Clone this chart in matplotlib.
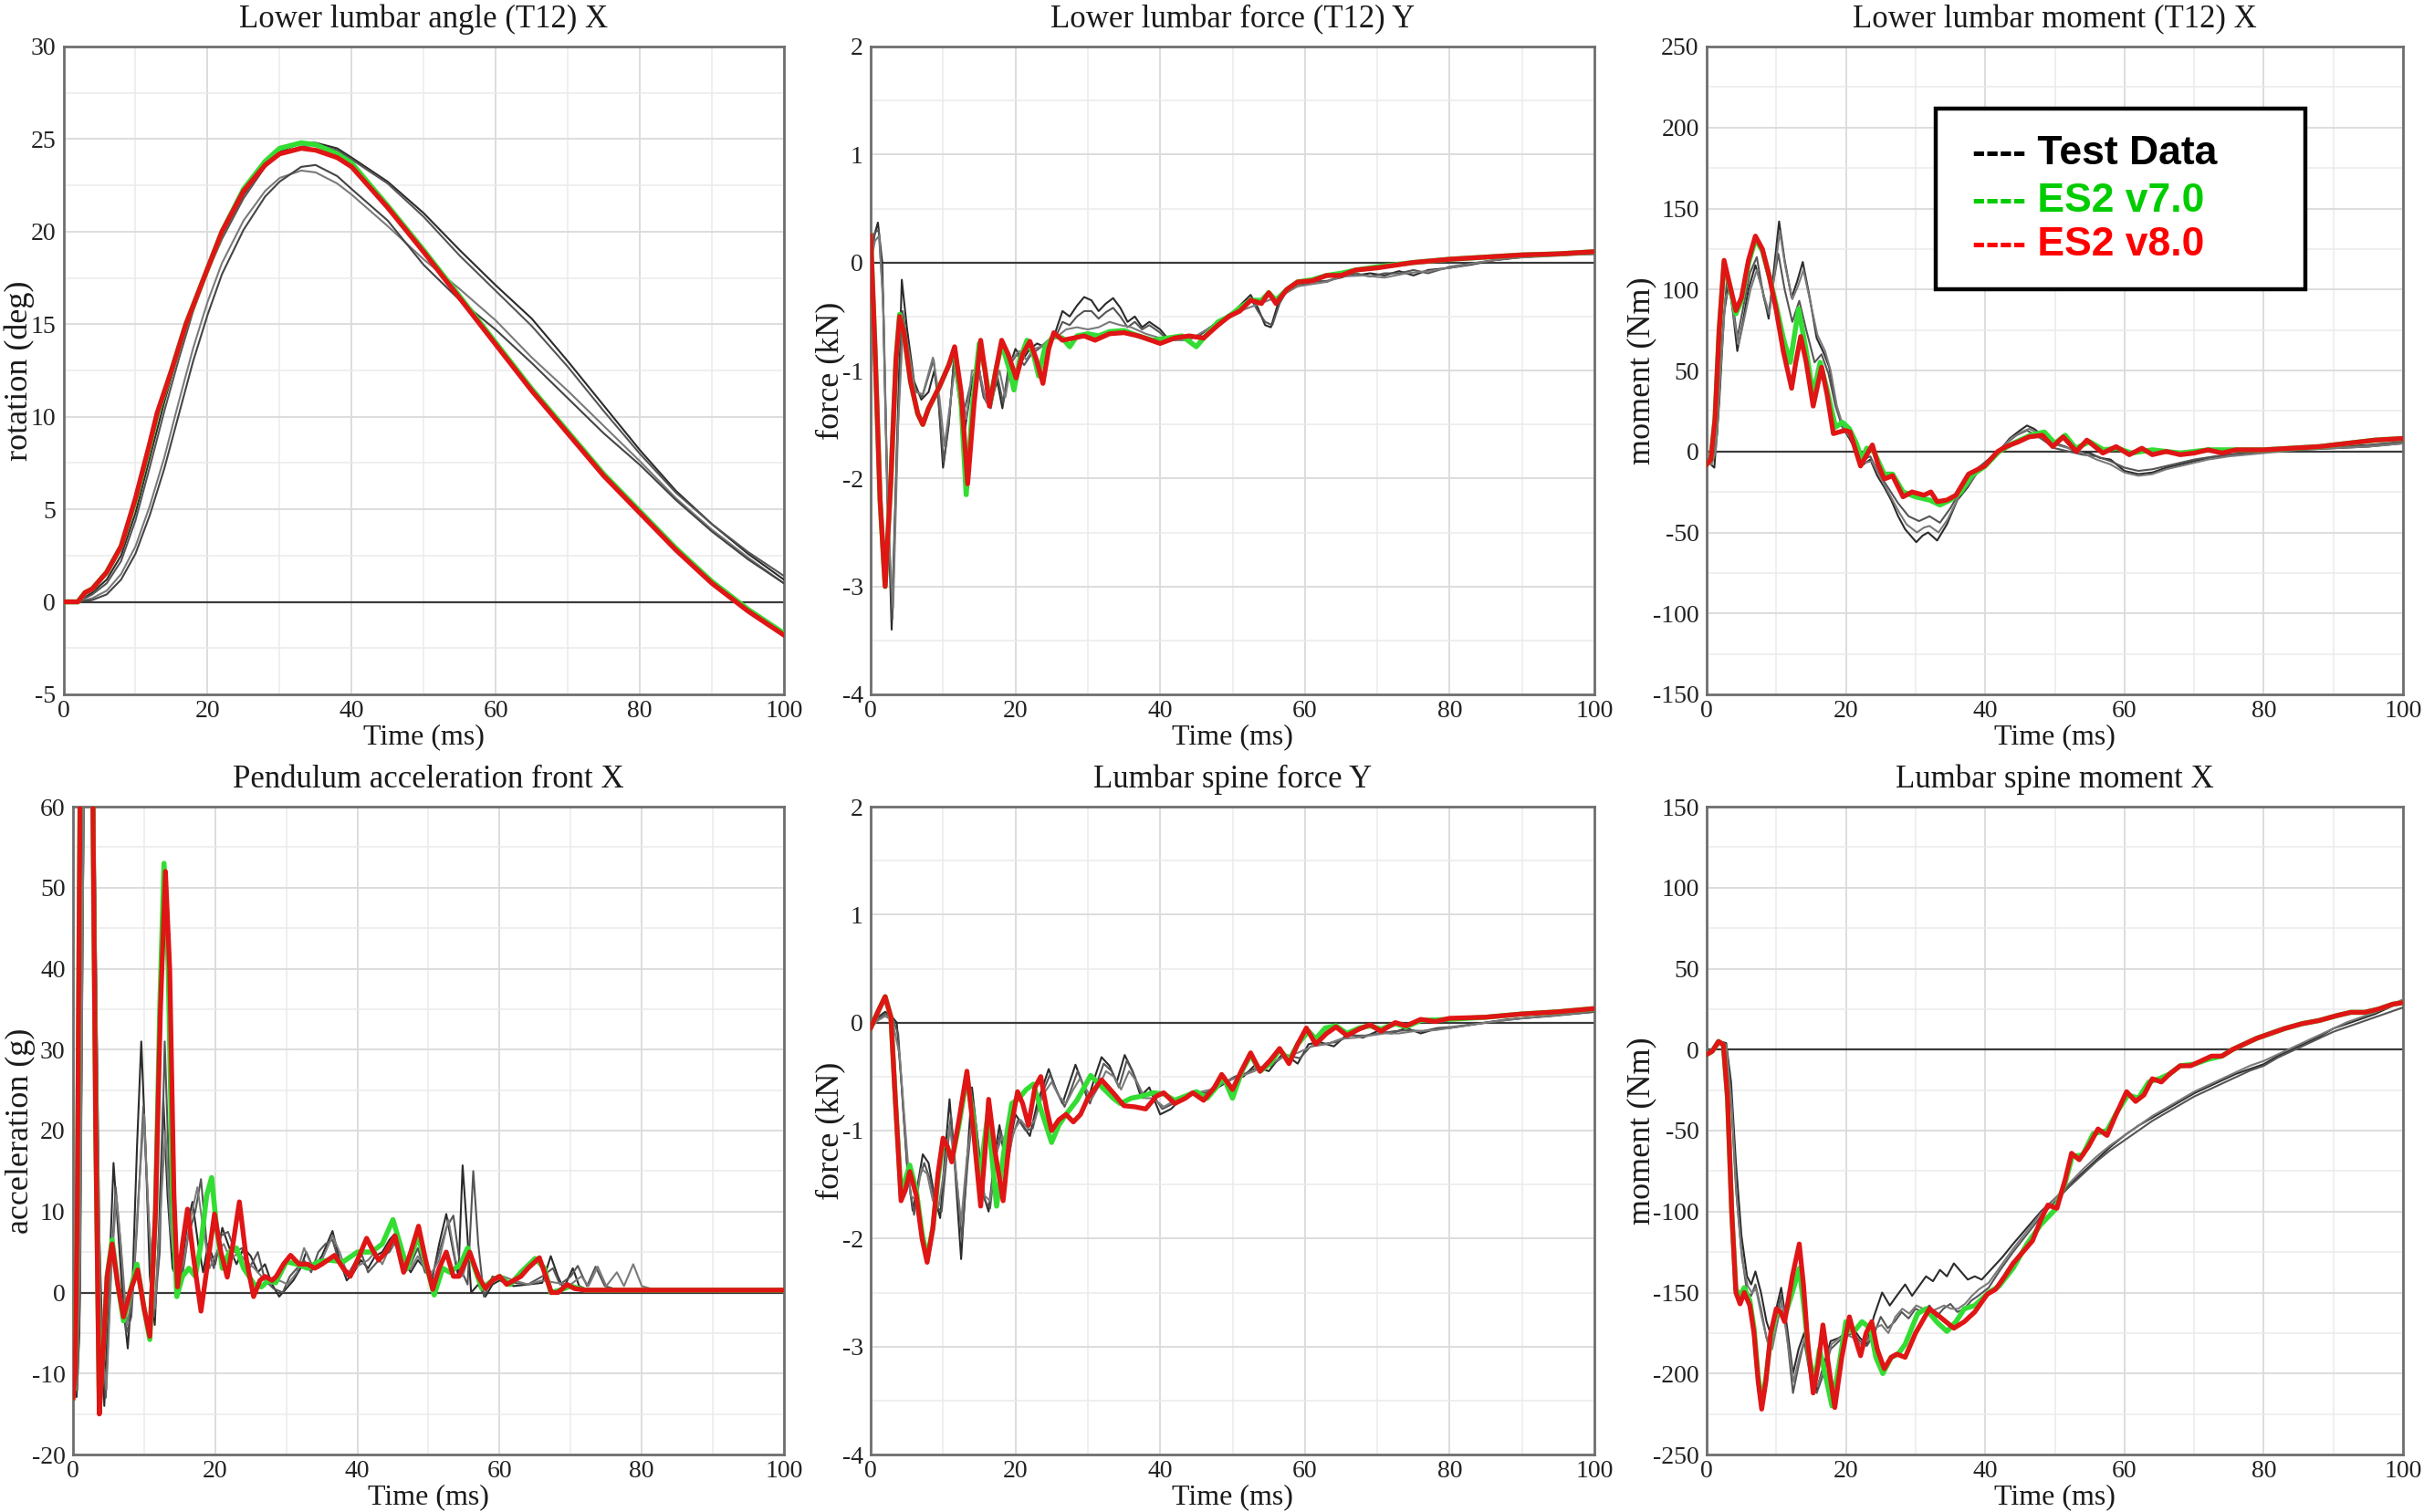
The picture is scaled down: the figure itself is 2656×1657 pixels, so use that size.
import numpy as np
import matplotlib
matplotlib.use("Agg")
import matplotlib.pyplot as plt
from matplotlib.ticker import MultipleLocator
from matplotlib.patches import Rectangle

plt.rcParams['font.family'] = ['Liberation Serif', 'DejaVu Serif']
plt.rcParams['axes.unicode_minus'] = False

# ---------- Lower lumbar angle (T12) X ----------
angle_red = [(0, 0), (2, 0), (3, 0.5), (4, 0.7), (6, 1.6), (8, 3.0), (10, 5.6), (12, 8.6), (13, 10.2),
             (15, 12.5), (17, 15.0), (20, 18.0), (22, 20.0), (25, 22.2), (28, 23.6), (30, 24.2),
             (33, 24.5), (35, 24.4), (38, 24.0), (40, 23.5), (45, 21.3), (50, 18.9), (55, 16.4),
             (60, 13.9), (65, 11.4), (70, 9.1), (75, 6.8), (80, 4.8), (85, 2.8), (90, 1.0), (95, -0.5),
             (100, -1.8)]
angle_green = [(0, 0), (2, 0), (3, 0.5), (4, 0.7), (6, 1.6), (8, 3.0), (10, 5.5), (12, 8.5), (13, 10.1),
               (15, 12.5), (17, 15.0), (20, 18.0), (22, 20.0), (25, 22.3), (28, 23.8), (30, 24.5),
               (33, 24.8), (35, 24.7), (38, 24.2), (40, 23.7), (45, 21.4), (50, 19.0), (55, 16.5),
               (60, 14.0), (65, 11.5), (70, 9.2), (75, 6.9), (80, 4.9), (85, 2.9), (90, 1.1), (95, -0.4),
               (100, -1.7)]
angle_t = [0, 2, 4, 6, 8, 10, 12, 14, 16, 18, 20, 22, 25, 28, 30, 33, 35, 38, 40, 45, 50, 55, 60, 65,
           70, 75, 80, 85, 90, 95, 100]
angle_test1 = [0, 0, 0.5, 1.2, 2.5, 4.8, 7.8, 10.8, 13.5, 16.0, 18.0, 19.8, 22.0, 23.6, 24.3, 24.8, 24.8,
               24.5, 24.0, 22.7, 21.0, 19.0, 17.1, 15.3, 13.0, 10.6, 8.2, 6.0, 4.2, 2.6, 1.2]
angle_test2 = [0, 0, 0.4, 1.0, 2.2, 4.4, 7.3, 10.3, 13.1, 15.7, 17.8, 19.6, 21.8, 23.5, 24.2, 24.6, 24.7,
               24.4, 23.9, 22.6, 20.8, 18.7, 16.8, 14.9, 12.7, 10.3, 8.0, 5.9, 4.2, 2.7, 1.4]
angle_test3 = [0, 0, 0.2, 0.6, 1.5, 3.0, 5.2, 7.8, 10.8, 13.7, 16.2, 18.3, 20.6, 22.2, 22.9, 23.3, 23.2,
               22.6, 22.0, 20.3, 18.5, 16.9, 15.2, 13.2, 11.4, 9.5, 7.6, 5.6, 3.9, 2.4, 1.0]
angle_test4 = [0, 0, 0.1, 0.4, 1.2, 2.6, 4.7, 7.2, 10.1, 13.0, 15.5, 17.7, 20.1, 21.9, 22.7, 23.5, 23.6,
               23.0, 22.3, 20.6, 18.2, 16.3, 14.7, 12.9, 11.0, 9.1, 7.4, 5.5, 3.8, 2.3, 1.0]

# ---------- Lower lumbar force (T12) Y ----------
force12_red = [(0, 0.25), (0.6, -0.8), (1.3, -2.2), (2.0, -3.0), (2.8, -2.0), (3.5, -0.9), (4.0, -0.5),
               (4.6, -0.65), (5.5, -1.1), (6.5, -1.4), (7.2, -1.5), (8.0, -1.35), (9.5, -1.15),
               (10.8, -0.95), (11.6, -0.78), (12.5, -1.2), (13.4, -2.05), (14.3, -1.3), (15.2, -0.72),
               (15.8, -1.0), (16.4, -1.33), (17.3, -1.0), (18.1, -0.72), (19.0, -0.85), (20.1, -1.07),
               (21.0, -0.85), (22.0, -0.73), (22.9, -0.9), (23.8, -1.12), (24.6, -0.8), (25.3, -0.65),
               (26.5, -0.72), (28.0, -0.7), (29.5, -0.68), (31.0, -0.72), (33.0, -0.66), (35.0, -0.65),
               (37.0, -0.68), (40.0, -0.75), (42.0, -0.7), (44.0, -0.68), (46.0, -0.7), (48.0, -0.58),
               (49.5, -0.5), (51.0, -0.45), (52.5, -0.35), (54.0, -0.38), (55.0, -0.28), (56.0, -0.38),
               (57.5, -0.25), (59.0, -0.18), (61.0, -0.17), (63.0, -0.12), (65.0, -0.12), (67.0, -0.07),
               (70.0, -0.05), (75.0, 0.0), (80.0, 0.03), (85.0, 0.05), (90.0, 0.07), (95.0, 0.08),
               (100.0, 0.1)]
force12_green = [(0, 0.25), (0.6, -0.8), (1.3, -2.2), (2.0, -3.0), (2.8, -2.0), (3.5, -0.9), (4.0, -0.48),
                 (4.6, -0.65), (5.5, -1.1), (6.5, -1.4), (7.2, -1.5), (8.0, -1.35), (9.5, -1.15),
                 (10.8, -0.95), (11.6, -0.8), (12.5, -1.3), (13.2, -2.15), (14.1, -1.3), (15.0, -0.75),
                 (15.8, -1.0), (16.5, -1.3), (17.3, -1.0), (18.1, -0.75), (19.2, -1.0), (19.8, -1.18),
                 (20.6, -0.9), (21.6, -0.72), (22.5, -0.85), (23.2, -1.05), (24.1, -0.78), (25.3, -0.68),
                 (26.5, -0.7), (27.5, -0.78), (28.5, -0.68), (30, -0.66), (31.5, -0.68), (33, -0.64),
                 (35, -0.63), (37, -0.68), (39, -0.72), (41, -0.7), (43, -0.68), (45, -0.78), (46, -0.7),
                 (48, -0.55), (49.5, -0.5), (51, -0.42), (52.5, -0.35), (54, -0.35), (55, -0.28),
                 (56, -0.35), (57.5, -0.25), (59, -0.18), (61, -0.16), (63, -0.12), (65, -0.1),
                 (67, -0.07), (70, -0.04), (75, 0.0), (80, 0.03), (85, 0.05), (90, 0.07), (95, 0.08),
                 (100, 0.1)]
force12_test1 = [(0, 0.0), (0.5, 0.25), (1.0, 0.37), (1.6, 0.0), (2.2, -1.8), (2.9, -3.4), (3.5, -2.0),
                 (4.3, -0.16), (5.0, -0.6), (6.0, -1.1), (7.0, -1.27), (8.0, -1.2), (8.8, -1.0),
                 (9.4, -1.3), (10.0, -1.9), (10.8, -1.5), (11.5, -0.9), (12.3, -1.3), (12.9, -1.6),
                 (13.8, -1.2), (14.8, -0.9), (15.5, -1.2), (16.5, -1.3), (17.5, -1.1), (18.2, -1.35),
                 (19.0, -1.0), (20.0, -0.8), (21.0, -0.9), (22.0, -0.8), (23.0, -0.75), (24.0, -0.78),
                 (25.5, -0.65), (26.5, -0.45), (27.5, -0.5), (28.5, -0.4), (29.5, -0.32), (30.5, -0.35),
                 (31.5, -0.45), (32.5, -0.38), (33.5, -0.33), (34.5, -0.42), (35.5, -0.55), (36.5, -0.5),
                 (37.5, -0.6), (38.5, -0.55), (40.0, -0.62), (41.0, -0.7), (42.0, -0.72), (43.5, -0.68),
                 (45.0, -0.7), (46.5, -0.62), (48.0, -0.55), (49.5, -0.5), (51.0, -0.4), (52.5, -0.3),
                 (53.5, -0.42), (54.5, -0.58), (55.3, -0.6), (56.2, -0.4), (57.5, -0.25), (59.0, -0.2),
                 (61.0, -0.17), (63.0, -0.18), (65.0, -0.12), (67.0, -0.12), (69.0, -0.1), (71.0, -0.12),
                 (73.0, -0.08), (75.0, -0.12), (77.0, -0.07), (80.0, -0.05), (83.0, -0.02), (86.0, 0.02),
                 (90.0, 0.05), (95.0, 0.07), (100.0, 0.08)]
force12_test2 = [(0, 0.0), (0.6, 0.28), (1.1, 0.3), (1.7, -0.3), (2.3, -2.2), (3.0, -3.3), (3.6, -1.8),
                 (4.4, -0.45), (5.1, -0.75), (6.0, -1.15), (7.1, -1.25), (8.0, -1.05), (8.7, -0.9),
                 (9.4, -1.3), (10.1, -1.85), (10.9, -1.4), (11.6, -0.85), (12.3, -1.2), (13.0, -1.35),
                 (13.9, -1.1), (14.8, -0.95), (15.6, -1.25), (16.6, -1.35), (17.5, -1.05), (18.3, -1.3),
                 (19.2, -0.95), (20.2, -0.85), (21.2, -0.95), (22.2, -0.85), (23.2, -0.8), (24.2, -0.75),
                 (25.5, -0.7), (26.5, -0.55), (27.5, -0.58), (28.5, -0.5), (29.5, -0.45), (30.5, -0.45),
                 (31.5, -0.52), (32.5, -0.46), (33.5, -0.42), (34.5, -0.5), (35.5, -0.6), (36.5, -0.55),
                 (37.5, -0.62), (38.5, -0.58), (40.0, -0.65), (41.0, -0.72), (42.0, -0.7), (43.5, -0.7),
                 (45.0, -0.68), (46.5, -0.62), (48.0, -0.55), (49.5, -0.48), (51.0, -0.42), (52.5, -0.33),
                 (53.5, -0.45), (54.5, -0.55), (55.5, -0.58), (56.5, -0.38), (57.5, -0.26), (59.0, -0.22),
                 (61.0, -0.18), (63.0, -0.17), (65.0, -0.14), (67.0, -0.1), (69.0, -0.13), (71.0, -0.1),
                 (73.0, -0.1), (75.0, -0.07), (77.0, -0.1), (80.0, -0.04), (83.0, -0.01), (86.0, 0.02),
                 (90.0, 0.05), (95.0, 0.07), (100.0, 0.08)]
force12_test3 = [(0, 0.0), (0.6, 0.2), (1.2, 0.25), (1.8, -0.5), (2.4, -2.4), (3.1, -3.2), (3.8, -1.5),
                 (4.5, -0.55), (5.2, -0.8), (6.2, -1.2), (7.2, -1.22), (8.1, -1.0), (8.6, -0.88),
                 (9.5, -1.25), (10.2, -1.7), (11.0, -1.3), (11.7, -0.95), (12.5, -1.15), (13.2, -1.45),
                 (14.0, -1.0), (15.0, -1.0), (16.0, -1.3), (16.8, -1.2), (17.8, -1.0), (18.6, -1.25),
                 (19.5, -0.9), (20.5, -0.82), (21.5, -0.9), (22.5, -0.8), (23.5, -0.78), (24.5, -0.72),
                 (25.5, -0.7), (27.0, -0.62), (28.5, -0.6), (30.0, -0.62), (31.5, -0.6), (33.0, -0.55),
                 (34.5, -0.58), (36.0, -0.6), (38.0, -0.66), (40.0, -0.7), (42.0, -0.72), (44.0, -0.72),
                 (45.5, -0.66), (47.0, -0.6), (49.0, -0.52), (51.0, -0.45), (53.0, -0.4), (55.0, -0.35),
                 (57.0, -0.3), (59.0, -0.22), (61.0, -0.2), (63.0, -0.18), (65.0, -0.13), (68.0, -0.12),
                 (71.0, -0.14), (74.0, -0.1), (77.0, -0.08), (80.0, -0.05), (84.0, 0.0), (88.0, 0.04),
                 (94.0, 0.06), (100.0, 0.08)]

# ---------- Lower lumbar moment (T12) X ----------
moment12_red = [(0, -8), (0.6, -5), (1.2, 20), (1.8, 75), (2.5, 118), (3.2, 105), (4.2, 87), (5.0, 95),
                (6.0, 118), (7.0, 133), (8.0, 125), (9.0, 108), (10.0, 87), (11.0, 62), (12.2, 39),
                (12.8, 55), (13.5, 71), (14.3, 55), (15.3, 28), (16.5, 52), (17.3, 35), (18.2, 11),
                (19.0, 12), (19.9, 13), (20.6, 12), (21.3, 2), (22.1, -9), (23.0, -2), (23.8, 4),
                (24.6, -8), (25.5, -17), (26.7, -15), (28.2, -28), (29.5, -25), (31.2, -27), (32.2, -25),
                (33.1, -31), (34.5, -30), (35.8, -27), (37.6, -14), (39.9, -9), (41.8, 0), (43.0, 3),
                (44.8, 6), (46.3, 9), (48.2, 10), (49.7, 3), (51.2, 9), (53.1, 0), (54.6, 7), (56.9, -1),
                (58.8, 3), (60.7, -2), (62.5, 2), (64.0, -2), (66.0, 0), (68.0, -2), (70.0, -1), (72.0, 1),
                (74.0, -1), (76.0, 1), (80.0, 1), (84.0, 2), (88.0, 3), (92.0, 5), (96.0, 7), (100.0, 8)]
moment12_green = [(0, -8), (0.6, -5), (1.2, 20), (1.8, 75), (2.5, 116), (3.2, 104), (4.2, 85), (5.0, 93),
                  (6.0, 116), (7.0, 131), (8.0, 124), (9.0, 108), (10.0, 90), (11.0, 70), (12.0, 55),
                  (13.2, 88), (14.3, 62), (15.3, 35), (16.3, 55), (17.3, 38), (18.5, 15), (19.5, 18),
                  (20.5, 14), (21.5, 5), (22.3, -5), (23.0, 2), (24.0, 0), (25.5, -14), (26.7, -14),
                  (28.2, -25), (30, -28), (32, -30), (33.5, -33), (35, -30), (36.5, -25), (38, -15),
                  (40, -9), (42, 0), (44, 5), (46.5, 10), (48.5, 12), (50, 5), (51.5, 10), (53, 2), (55, 6),
                  (57, 1), (59, 2), (61, -1), (64, 1), (68, -1), (72, 1), (76, 1), (80, 1), (84, 2), (88, 3),
                  (92, 5), (96, 7), (100, 8)]
moment12_test1 = [(0, -5), (0.6, -8), (1.1, -10), (1.8, 30), (2.5, 85), (3.2, 105), (3.8, 85), (4.4, 62),
                  (5.2, 80), (6.0, 100), (7.0, 115), (8.0, 100), (8.9, 82), (9.6, 110), (10.4, 142),
                  (11.2, 118), (12.2, 95), (13.0, 105), (13.8, 117), (14.8, 95), (15.8, 70), (16.9, 60),
                  (17.6, 52), (18.5, 30), (19.5, 15), (20.5, 8), (21.5, 0), (22.5, -8), (23.5, -5),
                  (24.5, -15), (25.5, -22), (26.5, -30), (27.5, -40), (28.5, -48), (30.1, -56), (31.0, -52),
                  (31.8, -50), (33.1, -55), (34.5, -45), (36, -30), (37.5, -22), (39, -12), (40.5, -6),
                  (42, 0), (43.5, 8), (45, 13), (46, 16), (47, 14), (48.5, 9), (50, 5), (51.5, 3), (53, 0),
                  (55, -1), (56.5, -4), (58, -5), (60, -12), (62, -14), (64, -13), (66, -10), (68, -8),
                  (70, -6), (72, -4), (75, -2), (80, 0), (85, 1), (90, 2), (95, 3), (100, 5)]
moment12_test2 = [(0, -5), (0.8, -6), (1.5, 10), (2.2, 70), (3.0, 110), (3.8, 90), (4.4, 70), (5.3, 90),
                  (6.2, 110), (7.2, 120), (8.2, 95), (8.9, 85), (9.6, 105), (10.3, 122), (11.2, 100),
                  (12.3, 80), (13.3, 93), (14.3, 75), (15.5, 55), (16.5, 60), (17.5, 48), (18.5, 28),
                  (19.5, 15), (20.5, 10), (21.5, 2), (22.5, -5), (23.5, -3), (24.5, -12), (26, -22),
                  (27.5, -32), (29, -40), (30.5, -43), (32, -40), (33.5, -44), (35, -35), (37, -20),
                  (39, -10), (41, -3), (43, 5), (44.5, 10), (46, 13), (48, 8), (50, 2), (52, 0), (54, -2),
                  (56, -3), (58, -6), (60, -10), (62, -12), (64, -11), (66, -9), (68, -7), (70, -5),
                  (73, -3), (77, -1), (80, 0), (85, 1), (90, 3), (95, 4), (100, 6)]
moment12_test3 = [(0, -6), (0.7, -8), (1.3, 0), (2.0, 50), (2.7, 95), (3.4, 100), (4.0, 80), (4.6, 66),
                  (5.4, 82), (6.3, 100), (7.2, 112), (8.1, 98), (9.0, 85), (9.7, 108), (10.5, 136),
                  (11.3, 114), (12.3, 94), (13.1, 102), (13.9, 112), (14.9, 92), (15.9, 72), (17.0, 62),
                  (17.8, 50), (18.7, 28), (19.7, 14), (20.7, 8), (21.7, 0), (22.7, -7), (23.7, -6),
                  (24.7, -14), (25.7, -22), (26.7, -30), (27.7, -38), (28.7, -45), (30.2, -50), (31.2, -47),
                  (32.0, -46), (33.3, -50), (34.6, -42), (36.2, -28), (37.7, -20), (39.2, -11), (40.7, -5),
                  (42.2, 1), (43.7, 8), (45.2, 12), (46.3, 14), (47.3, 12), (48.8, 8), (50.3, 4), (52, 2),
                  (54, -1), (56, -5), (58, -8), (60, -13), (62, -15), (64, -14), (66, -11), (68, -9),
                  (70, -7), (72, -5), (75, -3), (80, -1), (85, 1), (90, 2), (95, 3), (100, 5)]

# ---------- Pendulum acceleration front X ----------
accel_red = [(0, -13), (0.3, -10), (0.6, 10), (0.9, 50), (1.2, 85), (1.8, 100), (2.4, 85), (2.8, 60),
             (3.2, 20), (3.7, -15), (4.2, -8), (4.8, 2), (5.5, 6), (6.3, 1), (7.1, -3), (8.0, 0),
             (9.1, 2.8), (10.0, -2), (10.8, -5.4), (11.6, 10), (12.3, 35), (13.0, 52), (13.6, 40),
             (14.2, 12), (14.7, 0.7), (15.4, 6), (16.1, 10.3), (17.0, 4), (18.0, -2.3), (19.0, 4),
             (19.9, 9.7), (20.8, 5), (21.7, 1.9), (22.5, 6), (23.4, 11.2), (24.4, 4), (25.4, -0.5),
             (26.3, 1.5), (27.0, 2), (28.0, 1.5), (28.6, 2), (29.6, 3.5), (30.6, 4.6), (31.8, 3.5),
             (33, 3.5), (34, 3), (35, 3.5), (36.8, 4.6), (38, 3), (39, 2), (40, 4), (41.3, 6.7),
             (42.3, 5), (43, 4), (44, 5), (45.3, 7), (46.5, 2.5), (47.5, 5), (48.6, 8.2), (49.6, 4),
             (50.6, 0.4), (51.5, 3), (52.5, 5), (53.5, 2), (54.3, 2), (55.8, 5), (57, 2), (58, 0.5),
             (59, 1.5), (60, 2), (61, 1), (62, 1.5), (63, 2), (64, 3), (65.6, 4.3), (66.5, 2),
             (67.3, 0), (68.2, 0), (69.5, 1), (70.5, 0.5), (72, 0.3), (80, 0.3), (90, 0.3), (100, 0.3)]
accel_green = [(0, -13), (0.3, -10), (0.6, 10), (0.9, 50), (1.2, 85), (1.8, 100), (2.4, 85), (2.8, 60),
               (3.2, 20), (3.7, -14), (4.2, -8), (4.8, 2), (5.5, 6.5), (6.3, 1), (7.1, -3.5), (8.0, 0),
               (9.0, 3.5), (10.0, -2), (10.8, -5.8), (11.6, 10), (12.2, 35), (12.8, 53), (13.4, 40),
               (14.0, 12), (14.6, -0.5), (15.4, 2), (16.3, 3), (17.2, 2), (18.0, 6), (18.8, 12),
               (19.5, 14.2), (20.2, 8), (21.0, 3), (22.0, 5), (23.0, 5.5), (24.0, 3), (25.5, 1),
               (26.5, 0.7), (27.5, 1.5), (28.5, 1.2), (30, 3.8), (31.5, 3.5), (33, 3), (34.5, 3.8),
               (36, 4), (38, 3.8), (40, 5), (42, 5), (43.5, 6), (45, 9), (46, 6), (47, 3), (48.5, 7),
               (49.5, 4), (50.8, -0.3), (52, 3), (53, 2.5), (54.5, 3.5), (55.5, 5.5), (56.5, 3),
               (57.5, 0.5), (59, 1.5), (60, 2), (61.5, 1), (63, 2.5), (65, 4.2), (66.3, 3), (67.2, 0),
               (68.5, 0.3), (70, 0.8), (72, 0.3), (80, 0.3), (90, 0.3), (100, 0.3)]
accel_test1 = [(0, -10), (0.5, -12.9), (0.9, -5), (1.3, 40), (1.8, 90), (2.4, 100), (3.0, 60), (3.6, 10),
               (4.4, -14), (5.0, 0), (5.7, 16), (6.4, 7), (7.1, -2), (7.7, -6.9), (8.4, 2), (9.0, 18),
               (9.6, 31), (10.2, 18), (10.8, 2), (11.5, -4), (12.1, 8), (12.7, 24), (13.3, 12), (14.0, 3),
               (15.0, 1), (16.0, 8), (16.8, 11.2), (17.6, 6), (18.3, 2.5), (19.0, 6), (20.0, 3.5),
               (21.0, 8), (22.0, 5.5), (23.0, 3.5), (24.0, 5.5), (25.0, 4.5), (26.0, 2.5), (27.0, 3.5),
               (28.0, 1), (29.0, -0.5), (30.0, 0.5), (31.0, 1.5), (32.0, 3), (32.8, 5), (33.8, 3),
               (35.0, 4.5), (36.5, 7.6), (37.5, 4), (38.5, 1.5), (39.5, 2.5), (40.5, 4), (41.5, 3),
               (42.5, 4.5), (43.5, 5), (44.5, 6.5), (45.5, 7.5), (46.5, 4), (47.5, 2.5), (48.5, 4),
               (49.5, 3), (50.5, 1.5), (51.5, 6), (52.5, 9.7), (53.5, 5), (54.2, 2), (54.8, 15.7),
               (55.4, 8), (56.0, 0), (57.0, 1), (58.0, -0.5), (59.0, 1), (60.0, 1.5), (62.0, 0.8),
               (64.0, 1), (66.0, 1.2), (67.2, 4.5), (68.2, 2), (69.0, 0.5), (70.3, 3), (71.2, 0.8),
               (72.0, 0.5)]
accel_test2 = [(0, -9), (0.6, -12), (1.0, 0), (1.4, 50), (1.9, 95), (2.5, 95), (3.1, 50), (3.8, 0),
               (4.6, -13), (5.3, 2), (6.0, 13), (6.7, 6), (7.5, -5), (8.2, -3), (9.0, 8), (9.9, 23),
               (10.6, 10), (11.4, -3), (12.2, 5), (12.9, 31), (13.5, 15), (14.3, 2), (15.2, 1), (16.2, 7),
               (17.2, 10), (18.0, 14), (18.8, 6), (19.8, 3), (20.8, 7), (21.8, 7.5), (22.8, 5),
               (23.8, 5.5), (24.8, 3), (26.0, 5), (27.0, 1.5), (28.2, 0.5), (29.5, 0), (30.5, 2),
               (31.5, 3), (32.5, 4), (33.5, 2.5), (34.5, 5), (35.5, 6), (36.5, 6.5), (37.5, 3.5),
               (38.5, 2), (39.5, 3.5), (40.5, 5), (41.5, 2.5), (42.5, 3.5), (43.5, 4.5), (44.5, 5),
               (45.5, 6.5), (46.5, 3), (47.5, 3.5), (48.5, 5.5), (49.5, 2.5), (50.5, 2), (51.5, 5),
               (52.5, 8), (53.5, 9.5), (54.5, 3), (55.5, 1), (56.3, 15), (57.0, 6), (57.8, -0.5),
               (59.0, 2), (60.5, 1.5), (62.0, 1.2), (64.0, 1), (66.0, 2), (67.5, 3), (68.5, 1), (70.0, 2),
               (71.0, 3.3), (72.3, 0.8), (73.5, 3.2), (74.8, 0.8), (76.0, 0.5)]
accel_test3 = [(0, -11), (0.5, -12), (1.0, 5), (1.5, 60), (2.0, 100), (2.6, 90), (3.2, 40), (3.9, -5),
               (4.7, -12), (5.4, 3), (6.1, 12), (6.9, 4), (7.6, -4), (8.4, 0), (9.2, 12), (10.0, 22),
               (10.7, 8), (11.5, -2), (12.3, 10), (13.0, 20), (13.7, 8), (14.6, 1), (15.6, 4), (16.5, 9),
               (17.5, 13), (18.3, 8), (19.2, 3), (20.2, 5), (21.2, 6), (22.2, 4), (23.2, 5), (24.2, 4),
               (25.5, 3), (26.5, 2), (27.8, 1), (29.0, 1.5), (30.2, 1), (31.5, 2.5), (32.5, 5.5),
               (33.5, 3.5), (34.5, 3), (35.5, 5), (36.5, 7), (37.5, 5), (38.5, 2.5), (39.5, 3),
               (40.5, 3.5), (41.5, 4), (42.5, 5), (43.5, 3.5), (44.5, 5.5), (45.5, 6), (46.5, 2.5),
               (47.5, 3), (48.5, 4.5), (49.5, 3), (50.5, 2.5), (51.5, 4), (52.8, 9), (53.8, 4),
               (54.8, 2), (55.8, 5), (56.8, 3), (57.8, 1), (59, 1.5), (60.5, 2), (62, 1.5), (64, 1),
               (66, 1.5), (68, 1.2), (70, 1), (71.5, 2), (72.5, 0.8), (73.8, 3.2), (75.0, 0.8),
               (76.5, 2.5), (77.5, 0.8), (78.8, 3.5), (80.0, 0.8), (81.2, 0.5)]

# ---------- Lumbar spine force Y ----------
force_red = [(0, -0.05), (1.0, 0.1), (2.0, 0.24), (2.8, 0.05), (3.4, -0.7), (4.2, -1.65), (4.8, -1.55),
             (5.4, -1.38), (6.3, -1.6), (7.1, -2.0), (7.8, -2.22), (8.6, -1.9), (9.3, -1.4), (10.0, -1.07),
             (10.6, -1.15), (11.2, -1.29), (12.2, -0.9), (13.3, -0.45), (14.2, -1.0), (15.2, -1.7),
             (15.8, -1.2), (16.3, -0.71), (17.2, -1.2), (18.3, -1.65), (19.3, -1.0), (20.3, -0.64),
             (21.0, -0.75), (21.8, -0.95), (22.7, -0.6), (23.5, -0.5), (24.3, -0.8), (25.0, -1.0),
             (26.0, -0.9), (27.0, -0.85), (28.0, -0.92), (29.0, -0.85), (30.0, -0.7), (31.9, -0.53),
             (33.5, -0.65), (35.0, -0.77), (36.5, -0.78), (38.0, -0.8), (39.5, -0.68), (40.5, -0.65),
             (42.0, -0.75), (43.5, -0.7), (44.5, -0.65), (46.0, -0.72), (47.5, -0.6), (48.5, -0.48),
             (50.0, -0.62), (51.2, -0.45), (52.5, -0.28), (53.8, -0.45), (55.2, -0.35), (56.5, -0.24),
             (57.8, -0.38), (59.0, -0.2), (60.2, -0.05), (61.5, -0.2), (63.0, -0.1), (64.3, -0.04),
             (65.8, -0.12), (67.5, -0.06), (69.0, -0.02), (70.5, -0.08), (72.5, 0.0), (74.0, -0.03),
             (76.0, 0.03), (78, 0.01), (80, 0.04), (85, 0.05), (90, 0.08), (95, 0.1), (100, 0.13)]
force_green = [(0, -0.05), (1.0, 0.1), (2.0, 0.24), (2.8, 0.05), (3.4, -0.7), (4.2, -1.6), (4.8, -1.45),
               (5.4, -1.32), (6.3, -1.55), (7.1, -1.95), (7.8, -2.18), (8.6, -1.9), (9.3, -1.45),
               (10.0, -1.1), (10.6, -1.15), (11.2, -1.28), (12.2, -0.95), (13.3, -0.5), (14.2, -0.9),
               (15.0, -1.5), (15.7, -1.1), (16.2, -0.85), (17.4, -1.7), (18.4, -1.2), (19.5, -0.75),
               (20.5, -0.7), (21.5, -0.62), (22.5, -0.57), (23.5, -0.8), (25.0, -1.11), (26.0, -0.95),
               (27.0, -0.85), (28.5, -0.72), (30.4, -0.49), (32.0, -0.6), (33.5, -0.7), (34.5, -0.75),
               (36.0, -0.7), (37.5, -0.68), (39.0, -0.65), (40.5, -0.66), (42.0, -0.72), (43.5, -0.68),
               (45.0, -0.64), (46.5, -0.7), (48.0, -0.58), (48.7, -0.5), (50.0, -0.7), (51.3, -0.45),
               (52.5, -0.3), (53.8, -0.45), (55.2, -0.38), (56.5, -0.25), (57.8, -0.35), (59.0, -0.2),
               (60.5, -0.08), (61.5, -0.15), (62.8, -0.05), (64.3, -0.03), (65.8, -0.1), (67.5, -0.05),
               (69.0, -0.03), (70.5, -0.06), (72.5, -0.01), (74.0, -0.04), (76.0, 0.02), (80, 0.03),
               (85, 0.05), (90, 0.08), (95, 0.1), (100, 0.13)]
force_test1 = [(0, -0.05), (1.0, 0.05), (2.0, 0.1), (3.0, 0.05), (3.6, 0.0), (4.3, -0.6), (5.0, -1.3),
               (5.8, -1.74), (6.5, -1.5), (7.2, -1.22), (8.0, -1.3), (8.8, -1.6), (9.6, -1.81),
               (10.3, -1.2), (10.9, -0.71), (11.6, -1.3), (12.5, -2.19), (13.2, -1.4), (14.0, -0.6),
               (14.8, -1.1), (15.6, -1.6), (16.3, -1.75), (17.2, -1.2), (17.8, -0.95), (18.6, -1.3),
               (19.3, -1.1), (20.0, -0.85), (21.0, -0.95), (22.0, -1.05), (23.0, -0.75), (24.6, -0.43),
               (25.5, -0.6), (26.5, -0.75), (27.5, -0.55), (28.3, -0.39), (29.2, -0.55), (30.0, -0.72),
               (31.0, -0.5), (31.9, -0.32), (33.0, -0.4), (34.0, -0.55), (35.1, -0.3), (36.2, -0.45),
               (37.3, -0.68), (38.5, -0.6), (40.0, -0.85), (41.5, -0.8), (43.0, -0.7), (44.5, -0.65),
               (46.0, -0.68), (48.0, -0.6), (50.0, -0.52), (51.5, -0.5), (53.0, -0.4), (55.0, -0.45),
               (57.0, -0.28), (59.0, -0.38), (60.5, -0.2), (62.0, -0.18), (64.0, -0.22), (66.0, -0.1),
               (68.0, -0.14), (70.0, -0.08), (72.0, -0.1), (74.0, -0.05), (76.0, -0.1), (78.0, -0.06),
               (80.0, -0.05), (83.0, -0.02), (86.0, 0.01), (90.0, 0.04), (95.0, 0.07), (100.0, 0.1)]
force_test2 = [(0, -0.05), (1.0, 0.03), (2.0, 0.08), (3.0, 0.04), (3.8, -0.1), (4.5, -0.8), (5.2, -1.45),
               (6.0, -1.78), (6.7, -1.45), (7.4, -1.3), (8.2, -1.45), (9.0, -1.7), (9.8, -1.75),
               (10.5, -1.25), (11.1, -0.85), (11.8, -1.4), (12.6, -2.0), (13.4, -1.3), (14.2, -0.75),
               (15.0, -1.2), (15.8, -1.65), (16.5, -1.72), (17.3, -1.25), (18.0, -1.0), (18.8, -1.35),
               (19.6, -1.05), (20.4, -0.9), (21.4, -1.0), (22.4, -0.98), (23.4, -0.7), (24.8, -0.48),
               (25.8, -0.65), (26.8, -0.78), (27.8, -0.6), (28.6, -0.45), (29.5, -0.6), (30.3, -0.75),
               (31.3, -0.55), (32.2, -0.38), (33.3, -0.45), (34.3, -0.6), (35.4, -0.35), (36.5, -0.5),
               (37.6, -0.7), (38.8, -0.65), (40.3, -0.8), (41.8, -0.75), (43.3, -0.68), (44.8, -0.66),
               (46.3, -0.65), (48.3, -0.58), (50.3, -0.5), (51.8, -0.47), (53.3, -0.42), (55.3, -0.4),
               (57.3, -0.3), (59.3, -0.33), (60.8, -0.22), (62.3, -0.2), (64.3, -0.18), (66.3, -0.12),
               (68.3, -0.12), (70.3, -0.1), (72.3, -0.08), (74.3, -0.07), (76.3, -0.08), (78.3, -0.05),
               (80.3, -0.04), (84.0, -0.01), (88.0, 0.03), (94.0, 0.06), (100.0, 0.1)]
force_test3 = [(0, -0.05), (1.0, 0.02), (2.0, 0.06), (3.0, 0.02), (4.0, -0.3), (4.8, -1.0), (5.5, -1.6),
               (6.3, -1.65), (7.0, -1.35), (7.8, -1.4), (8.6, -1.65), (9.4, -1.7), (10.2, -1.35),
               (10.9, -0.95), (11.7, -1.35), (12.5, -1.85), (13.3, -1.25), (14.1, -0.85), (14.9, -1.25),
               (15.7, -1.6), (16.5, -1.65), (17.4, -1.2), (18.2, -1.05), (19.0, -1.25), (19.8, -1.0),
               (20.7, -0.9), (21.7, -0.98), (22.7, -0.9), (23.7, -0.68), (25.0, -0.55), (26.0, -0.68),
               (27.0, -0.75), (28.0, -0.62), (28.9, -0.52), (29.8, -0.62), (30.6, -0.7), (31.6, -0.58),
               (32.5, -0.45), (33.6, -0.5), (34.6, -0.62), (35.7, -0.45), (36.8, -0.55), (37.9, -0.7),
               (39.0, -0.7), (40.5, -0.78), (42.0, -0.72), (43.5, -0.68), (45.0, -0.65), (47.0, -0.62),
               (49.0, -0.55), (51.0, -0.5), (53.0, -0.45), (55.0, -0.38), (57.0, -0.32), (59.0, -0.28),
               (61.0, -0.22), (63.0, -0.2), (65.0, -0.15), (67.0, -0.14), (69.0, -0.12), (71.0, -0.1),
               (73.0, -0.1), (75.0, -0.08), (78.0, -0.07), (81.0, -0.04), (85.0, 0.0), (90.0, 0.04),
               (95.0, 0.07), (100.0, 0.11)]

# ---------- Lumbar spine moment X ----------
moment_red = [(0, -3), (0.8, -1), (1.7, 5), (2.4, 3), (3.0, -30), (3.6, -100), (4.2, -150), (4.8, -157),
              (5.4, -150), (6.2, -158), (6.8, -175), (7.4, -205), (7.9, -222), (8.5, -205), (9.2, -175),
              (10.0, -160), (10.6, -162), (11.2, -168), (12.3, -140), (13.3, -120), (13.9, -145),
              (14.5, -180), (15.3, -212), (16.0, -195), (16.7, -170), (17.5, -195), (18.4, -221),
              (19.4, -190), (20.5, -165), (21.3, -178), (22.1, -189), (22.9, -175), (23.7, -168),
              (24.5, -185), (25.5, -197), (26.5, -190), (27.3, -188), (28.5, -190), (30.0, -175),
              (32.0, -160), (33.5, -165), (35.5, -172), (37.0, -168), (38.5, -162), (40.3, -151),
              (41.5, -148), (42.8, -140), (44.0, -132), (45.6, -124), (46.8, -118), (48.0, -105),
              (49.0, -96), (50.3, -98), (51.5, -80), (52.4, -64), (53.5, -68), (54.8, -60), (56.2, -49),
              (57.5, -53), (58.8, -40), (60.3, -26), (61.6, -32), (62.8, -28), (64.0, -18), (65.3, -20),
              (66.5, -15), (68.0, -10), (69.5, -10), (71.0, -7), (72.5, -4), (74.0, -4), (75.5, 0),
              (77.0, 3), (79.0, 7), (81.0, 10), (83.0, 13), (85.5, 16), (88.0, 18), (90.5, 21),
              (92.5, 23), (94.5, 23), (96.5, 25), (98.5, 28), (100, 29)]
moment_green = [(0, -3), (0.8, -1), (1.7, 5), (2.4, 3), (3.0, -30), (3.6, -100), (4.2, -148), (4.8, -152),
                (5.4, -147), (6.2, -155), (6.8, -172), (7.4, -202), (7.9, -218), (8.5, -203), (9.2, -178),
                (10.0, -162), (10.6, -163), (11.2, -165), (12.3, -150), (13.3, -135), (14.0, -160),
                (14.7, -190), (15.5, -205), (16.2, -185), (17.0, -200), (18.0, -220), (19.0, -195),
                (20.0, -168), (21.0, -175), (22.3, -168), (23.5, -172), (24.3, -190), (25.3, -200),
                (26.5, -190), (27.5, -188), (28.5, -182), (30.3, -163), (31.5, -160), (33.0, -168),
                (34.5, -174), (35.8, -168), (37.0, -160), (38.5, -158), (40.5, -150), (42, -146),
                (44, -135), (46, -120), (48, -108), (50, -99), (51.5, -82), (52.5, -66), (54, -65),
                (55.5, -52), (57.5, -50), (59, -38), (60.5, -28), (62, -30), (63.5, -20), (65, -18),
                (66.5, -15), (68, -10), (70, -9), (72, -6), (74, -4), (75.5, 0), (77, 3), (79, 7),
                (81, 10), (83, 13), (85.5, 16), (88, 18), (90.5, 21), (92.5, 23), (94.5, 23), (96.5, 25),
                (98.5, 28), (100, 29)]
moment_test1 = [(0, -3), (1, 0), (2, 5), (2.8, 4), (3.5, -20), (4.2, -70), (5.0, -115), (5.8, -140),
                (6.4, -145), (7.0, -137), (7.8, -150), (8.6, -168), (9.3, -177), (10.0, -160),
                (10.7, -147), (11.5, -170), (12.4, -200), (13.2, -185), (14.0, -175), (15.0, -200),
                (15.8, -210), (16.8, -195), (17.8, -180), (19.0, -178), (20.0, -175), (21.0, -172),
                (22.0, -178), (23.0, -182), (24.0, -165), (25.2, -150), (26.3, -158), (27.3, -152),
                (28.5, -145), (29.5, -152), (30.5, -146), (31.5, -140), (32.5, -143), (33.5, -136),
                (34.5, -140), (35.5, -132), (36.5, -137), (37.5, -142), (38.5, -140), (39.5, -142),
                (41.0, -135), (42.5, -128), (44.0, -120), (46.0, -110), (48.0, -100), (50.0, -92),
                (52.0, -84), (54.0, -76), (56.0, -68), (58.0, -60), (60.0, -53), (62.0, -47), (64.0, -42),
                (66.0, -37), (68.0, -32), (70.0, -27), (72.0, -23), (74.0, -19), (76.0, -15), (78.0, -12),
                (80.0, -9), (82.0, -4), (84.0, 0), (86.0, 4), (88.0, 8), (90.0, 13), (92.0, 16),
                (94.0, 19), (96.0, 22), (98.0, 26), (100.0, 30)]
moment_test2 = [(0, -3), (1, 0), (2, 4), (2.8, 3), (3.5, -30), (4.2, -85), (5.0, -125), (5.8, -150),
                (6.4, -152), (7.0, -145), (7.8, -160), (8.6, -178), (9.3, -182), (10.0, -165),
                (10.7, -152), (11.5, -175), (12.4, -212), (13.2, -195), (14.0, -180), (15.0, -205),
                (15.8, -212), (16.8, -200), (17.8, -185), (19.0, -180), (20.0, -177), (21.0, -175),
                (22.0, -180), (23.0, -183), (24.0, -176), (25.0, -165), (26.0, -172), (27.0, -168),
                (28.0, -162), (29.0, -166), (30.0, -160), (31.0, -162), (32.0, -158), (33.0, -165),
                (34.0, -160), (35.0, -157), (36.0, -162), (37.0, -160), (38.0, -155), (39.0, -152),
                (40.5, -147), (42, -137), (44, -125), (46, -114), (48, -103), (50, -94), (52, -85),
                (54, -77), (56, -69), (58, -62), (60, -56), (62, -50), (64, -44), (66, -39), (68, -34),
                (70, -29), (72, -25), (74, -21), (76, -17), (78, -13), (80, -10), (82, -5), (84, -1),
                (86, 3), (88, 7), (90, 11), (92, 14), (94, 17), (96, 20), (98, 23), (100, 26)]
moment_test3 = [(0, -3), (1, 0), (2, 4), (2.8, 3), (3.6, -35), (4.3, -90), (5.1, -130), (5.9, -146),
                (6.5, -150), (7.1, -148), (7.9, -165), (8.7, -180), (9.4, -185), (10.1, -170),
                (10.8, -155), (11.6, -180), (12.5, -205), (13.3, -190), (14.1, -178), (15.1, -198),
                (15.9, -208), (16.9, -196), (17.9, -182), (19.1, -178), (20.1, -176), (21.1, -178),
                (22.1, -182), (23.1, -180), (24.1, -172), (25.1, -170), (26.1, -175), (27.1, -165),
                (28.1, -160), (29.1, -163), (30.1, -158), (31.1, -160), (32.1, -162), (33.1, -160),
                (34.1, -158), (35.1, -160), (36.1, -160), (37.1, -157), (38.1, -152), (39.1, -148),
                (40.5, -144), (42, -135), (44, -123), (46, -112), (48, -101), (50, -92), (52, -83),
                (54, -74), (56, -66), (58, -59), (60, -53), (62, -47), (64, -41), (66, -36), (68, -31),
                (70, -26), (72, -22), (74, -18), (76, -14), (78, -10), (80, -7), (82, -3), (84, 1),
                (86, 5), (88, 9), (90, 13), (92, 17), (94, 20), (96, 23), (98, 27), (100, 31)]

TEST_COLORS = ['#2b2b2b', '#555555', '#7a7a7a', '#444444']
GREEN = '#33dd33'
RED = '#e01515'

fig = plt.figure(figsize=(26.56, 16.57), dpi=100)
W, H = 2656.0, 1657.0


def add_panel(left, right, top, bottom):
    return fig.add_axes([left / W, 1 - bottom / H, (right - left) / W, (bottom - top) / H])


def pts(p):
    a = np.array(p, dtype=float)
    return a[:, 0], a[:, 1]


def draw(ax, tests, green, red, title, ylabel, ylim, ystep):
    for i, tr in enumerate(tests):
        if isinstance(tr, tuple) and len(tr) == 2 and not isinstance(tr[0], tuple):
            x, y = tr
        else:
            x, y = pts(tr)
        ax.plot(x, y, color=TEST_COLORS[i % len(TEST_COLORS)], lw=1.5, zorder=3)
    gx, gy = pts(green)
    ax.plot(gx, gy, color=GREEN, lw=4.0, zorder=4, solid_joinstyle='round')
    rx, ry = pts(red)
    ax.plot(rx, ry, color=RED, lw=3.8, zorder=5, solid_joinstyle='round')

    ax.axhline(0, color='#3a3a3a', lw=1.6, zorder=2)
    ax.set_xlim(0, 100)
    ax.set_ylim(*ylim)
    ax.xaxis.set_major_locator(MultipleLocator(20))
    ax.xaxis.set_minor_locator(MultipleLocator(10))
    ax.yaxis.set_major_locator(MultipleLocator(ystep))
    ax.yaxis.set_minor_locator(MultipleLocator(ystep / 2))
    ax.grid(which='major', color='#dadada', lw=1.3, zorder=0)
    ax.grid(which='minor', color='#ebebeb', lw=1.1, zorder=0)
    ax.set_axisbelow(True)
    ax.tick_params(which='both', length=0, labelsize=20, colors='#222222')
    ax.tick_params(axis='x', pad=4)
    ax.tick_params(axis='y', pad=6)
    for s in ax.spines.values():
        s.set_color('#6e6e6e')
        s.set_linewidth(2.0)
    ax.set_title(title, fontsize=25, pad=15, color='#1a1a1a')
    ax.set_ylabel(ylabel, fontsize=26, labelpad=-3, color='#1a1a1a')
    ax.set_xlabel('Time (ms)', fontsize=23, labelpad=1, color='#1a1a1a')


ax1 = add_panel(69.5, 859, 51, 761)
draw(ax1, [(np.array(angle_t, float), np.array(v, float)) for v in
           (angle_test1, angle_test2, angle_test3, angle_test4)],
     angle_green, angle_red, 'Lower lumbar angle (T12) X', 'rotation (deg)', (-5, 30), 5)

ax2 = add_panel(954, 1747, 51, 761)
draw(ax2, [force12_test1, force12_test2, force12_test3], force12_green, force12_red,
     'Lower lumbar force (T12) Y', 'force (kN)', (-4, 2), 1)

ax3 = add_panel(1870, 2633, 51, 761)
draw(ax3, [moment12_test1, moment12_test2, moment12_test3], moment12_green, moment12_red,
     'Lower lumbar moment (T12) X', 'moment (Nm)', (-150, 250), 50)

ax4 = add_panel(80, 859, 884, 1594)
draw(ax4, [accel_test1, accel_test2, accel_test3], accel_green, accel_red,
     'Pendulum acceleration front X', 'acceleration (g)', (-20, 60), 10)

ax5 = add_panel(954, 1747, 884, 1594)
draw(ax5, [force_test1, force_test2, force_test3], force_green, force_red,
     'Lumbar spine force Y', 'force (kN)', (-4, 2), 1)

ax6 = add_panel(1870, 2633, 884, 1594)
draw(ax6, [moment_test1, moment_test2, moment_test3], moment_green, moment_red,
     'Lumbar spine moment X', 'moment (Nm)', (-250, 150), 50)

# legend box drawn as text in the upper right panel
fig.add_artist(Rectangle((2121 / W, 1 - 317 / H), 405 / W, 198 / H, transform=fig.transFigure,
                         facecolor='white', edgecolor='black', lw=3.2, zorder=10))
legend_items = [('---- Test Data', 'black'), ('---- ES2 v7.0', '#00cc00'), ('---- ES2 v8.0', '#ff0000')]
for (txt, col), yc in zip(legend_items, (168, 220, 269)):
    fig.text(2161 / W, 1 - yc / H, txt, color=col, fontsize=32, fontweight='bold',
             family=['Liberation Sans', 'DejaVu Sans'], va='center', ha='left', zorder=11)

fig.savefig('out.png', dpi=100, facecolor='white')
